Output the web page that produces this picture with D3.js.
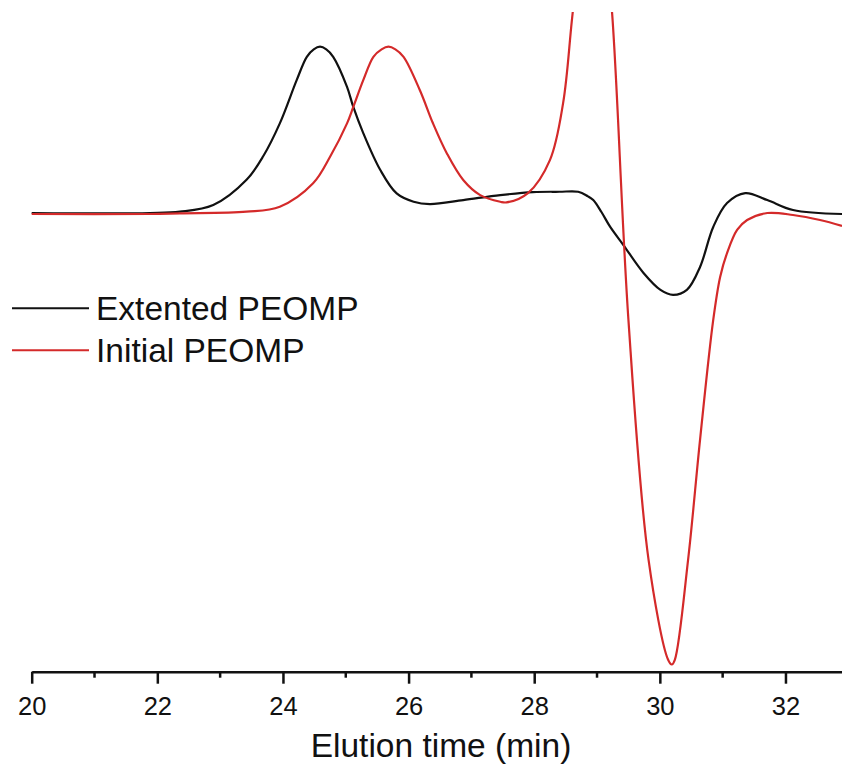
<!DOCTYPE html>
<html>
<head>
<meta charset="utf-8">
<script src="https://cdn.jsdelivr.net/npm/d3@7"></script>
<style>
  body { margin: 0; background: #fff; }
  svg { display: block; font-family: "Liberation Sans", Arial, sans-serif; }
</style>
</head>
<body>
<div id="chart"></div>
<script>
// elution time (min) and detector signal (arb. units, baseline = 0)
const extendedTime = [20.00, 21.88, 22.36, 22.89, 23.42, 23.69, 23.95, 24.22, 24.38, 24.49, 24.59,
  24.69, 24.80, 25.02, 25.12, 25.28, 25.55, 25.81, 26.08, 26.34, 26.87, 27.46, 27.98, 28.40, 28.70,
  28.85, 28.94, 29.07, 29.21, 29.42, 29.74, 30.01, 30.21, 30.43, 30.64, 30.85, 31.07, 31.36,
  31.71, 32.12, 32.90];
const extendedSignal = [0, 0, 0.8, 4.8, 20.0, 34.5, 54.0, 80.2, 94.1, 98.6, 100.2,
  98.6, 94.1, 76.0, 63.9, 48.0, 25.9, 11.8, 6.8, 5.4, 7.8, 10.8, 12.6, 12.8, 12.8,
  10.2, 7.8, 0.6, -8.4, -19.3, -36.1, -46.3, -49.3, -46.3, -32.5, -8.4, 6.0, 12.0,
  7.8, 1.8, -0.6];

const initialTime = [20.00, 21.88, 22.36, 23.42, 23.95, 24.48, 24.75, 25.02, 25.12, 25.28,
  25.44, 25.57, 25.68, 25.79, 25.92, 26.18, 26.39, 26.61, 26.87, 27.14, 27.46, 27.56, 27.90, 28.25, 28.46,
  28.60, 28.75, 28.93, 29.10, 29.24, 29.50, 29.82, 30.13, 30.19, 30.24, 30.45, 30.64, 30.85,
  30.96, 31.07, 31.23, 31.39, 31.71, 32.12, 32.55, 32.90];
const initialSignal = [-0.6, -0.6, -0.2, 0.8, 3.8, 17.9, 33.9, 54.0, 63.9, 80.2,
  94.1, 98.6, 100.2, 98.6, 94.1, 74.0, 53.9, 35.9, 19.9, 10.8, 6.8, 6.4, 12.0, 31.9, 66.2,
  116.2, 170, 230, 175, 120.4, -64.4, -208.8, -269, -272, -269, -208.8, -136.6, -64.4,
  -38.5, -24.1, -10.2, -4.2, 0, -1.2, -4.2, -7.8];

const xTicks = [20, 22, 24, 26, 28, 30, 32];
const xMinorTicks = [21, 23, 25, 27, 29, 31];

const seriesNames = ['Extented PEOMP', 'Initial PEOMP'];
const seriesColors = ['#111111', '#d42a2a'];

class Chart {

  constructor(opts) {
    this.element = opts.element;
    this.series = opts.series;
    this.draw();
  }

  draw() {
    this.width = 842;
    this.height = 772;
    this.axisY = 671.7;

    this.element.innerHTML = '';
    this.svg = d3.select(this.element).append('svg')
      .attr('width', this.width)
      .attr('height', this.height);

    this.createScales();
    this.addLines();
    this.addAxes();
    this.addLegend();
  }

  createScales() {
    this.xScale = d3.scaleLinear()
      .domain([20, 32.9])
      .range([31.7, 842]);

    this.yScale = d3.scaleLinear()
      .domain([-275.3, 121.1])
      .range([670, 12]);
  }

  addLines() {
    this.svg.append('clipPath')
      .attr('id', 'plot-clip')
      .append('rect')
      .attr('x', 0)
      .attr('y', 12)
      .attr('width', this.width)
      .attr('height', this.axisY - 12);

    const line = d3.line()
      .x(d => this.xScale(d[0]))
      .y(d => this.yScale(d[1]))
      .curve(d3.curveCatmullRom.alpha(0.5));

    this.svg.append('g')
      .attr('clip-path', 'url(#plot-clip)')
      .selectAll('path')
      .data(this.series).enter()
      .append('path')
      .attr('d', s => line(d3.zip(s.time, s.signal)))
      .attr('fill', 'none')
      .attr('stroke', s => s.color)
      .attr('stroke-width', 2.2)
      .attr('stroke-linejoin', 'round');
  }

  addAxes() {
    const xAxis = d3.axisBottom(this.xScale)
      .tickValues(xTicks)
      .tickSize(12)
      .tickSizeOuter(0)
      .tickPadding(13)
      .tickFormat(d3.format('d'));

    const gx = this.svg.append('g')
      .attr('class', 'x_axis')
      .attr('transform', `translate(0, ${this.axisY})`)
      .call(xAxis);

    gx.select('.domain').attr('stroke', '#111').attr('stroke-width', 2.5);
    gx.selectAll('.tick line').attr('stroke', '#111').attr('stroke-width', 2.5);
    gx.selectAll('.tick text')
      .attr('fill', '#111')
      .style('font-size', '25.5px')
      .style('font-family', '"Liberation Sans", Arial, sans-serif');

    gx.selectAll('.minor')
      .data(xMinorTicks).enter()
      .append('line')
      .attr('class', 'minor')
      .attr('x1', d => this.xScale(d))
      .attr('x2', d => this.xScale(d))
      .attr('y1', 0)
      .attr('y2', 6)
      .attr('stroke', '#111')
      .attr('stroke-width', 2.5);

    this.svg.append('text')
      .attr('x', 441)
      .attr('y', 757)
      .attr('text-anchor', 'middle')
      .attr('fill', '#111')
      .style('font-size', '33.5px')
      .text('Elution time (min)');
  }

  addLegend() {
    const legend = this.svg.append('g')
      .selectAll('g')
      .data(this.series).enter()
      .append('g')
      .attr('transform', (d, i) => `translate(0, ${308.3 + i * 42})`);

    legend.append('line')
      .attr('x1', 12)
      .attr('x2', 89)
      .attr('stroke', d => d.color)
      .attr('stroke-width', 2);

    legend.append('text')
      .attr('x', 96)
      .attr('y', 11.5)
      .attr('fill', '#111')
      .style('font-size', '33.5px')
      .text(d => d.name);
  }

}

new Chart({
  element: document.getElementById('chart'),
  series: [
    { name: seriesNames[0], color: seriesColors[0], time: extendedTime, signal: extendedSignal },
    { name: seriesNames[1], color: seriesColors[1], time: initialTime, signal: initialSignal }
  ]
});
</script>
</body>
</html>
